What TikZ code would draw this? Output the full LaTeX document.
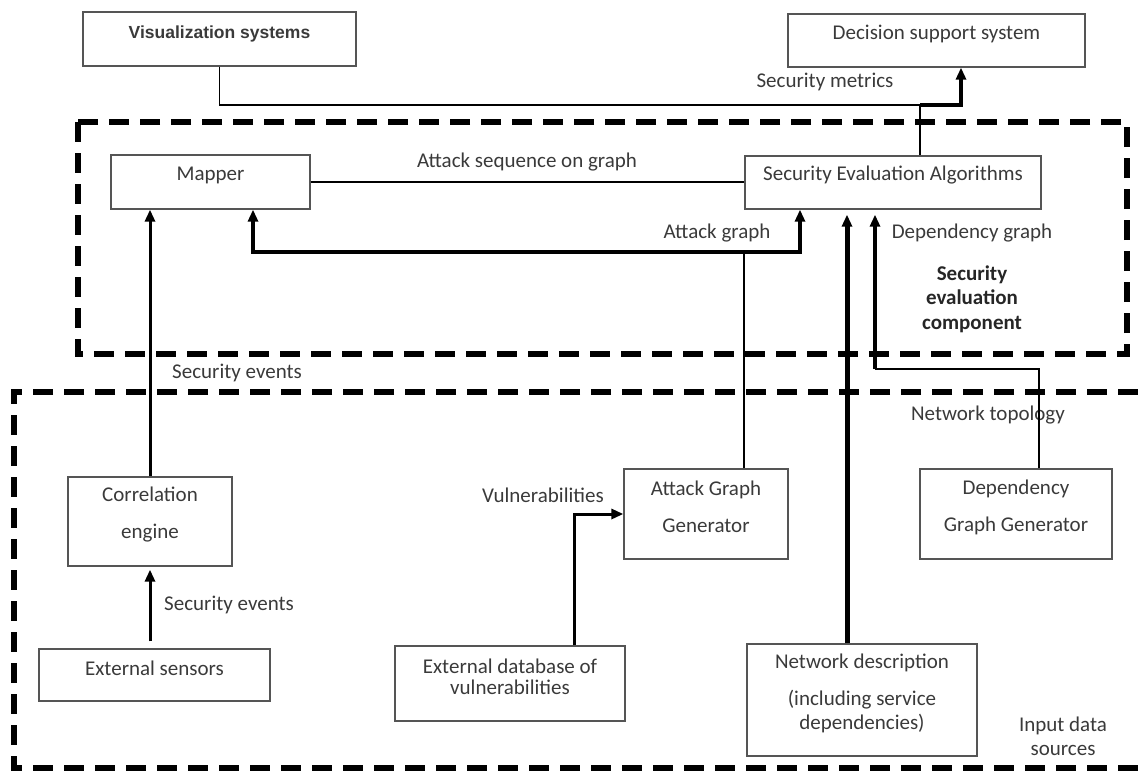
\documentclass[tikz,border=0pt]{standalone}
\usepackage{fontspec}
\setmainfont{Carlito}
\newfontfamily\visfont{Liberation Sans}
\usetikzlibrary{arrows.meta}

\definecolor{txtgray}{HTML}{3A3A3A}
\definecolor{boxline}{HTML}{555555}

\tikzset{
  box/.style={draw=boxline, line width=1.3pt, inner sep=0pt},
  boxtext/.style={text=txtgray, align=center, yshift=7pt},
  lbl/.style={text=txtgray, align=center, inner sep=1pt},
  conn/.style={line width=1.6pt},
  medarrow/.style={line width=3pt, ->},
  thickarrow/.style={line width=4pt, ->},
  ndline/.style={line width=5pt, ->},
  zone/.style={line width=5.5pt, dash pattern=on 20pt off 11pt},
}

\begin{document}
\begin{tikzpicture}[x=1pt, y=-1pt, font=\fontsize{21}{24}\selectfont,
    >={Triangle[length=12pt, width=10pt]}]

  \useasboundingbox (0,0) rectangle (1138,772);

  % ------------------------------------------------------- the two zones
  \draw[zone] (78,122) rectangle (1127,354);
  \draw[zone] (1138,392) -- (14,392) -- (14,768) -- (1138,768);

  % ------------------------------------------------------------- outputs
  \node[box, minimum width=273, minimum height=54,
    label={[boxtext, yshift=-2pt, name=vistext, font=\visfont\bfseries\fontsize{17.5}{20}\selectfont]center:{Visualization systems}}]
    (vis) at (219.5,39) {};
  \node[box, minimum width=297, minimum height=53,
    label={[boxtext, name=dsstext]center:{Decision support system}}]
    (dss) at (936.5,40.5) {};

  % ------------------------------------------- security evaluation component
  \node[box, minimum width=199, minimum height=54,
    label={[boxtext, name=mappertext]center:{Mapper}}]
    (mapper) at (210.5,182) {};
  \node[box, minimum width=296, minimum height=53,
    label={[boxtext, name=seatext]center:{Security Evaluation Algorithms}}]
    (sea) at (893,182.5) {};
  \node[lbl, font=\bfseries\fontsize{21}{24.5}\selectfont, text=black!85]
    (zoneA) at (972,299) {Security\\evaluation\\component};

  % ------------------------------------------------------ input data sources
  \node[box, minimum width=164, minimum height=89,
    label={[boxtext, name=corrtext]center:{Correlation\\[13pt]engine}}]
    (corr) at (150,521.5) {};
  \node[box, minimum width=231, minimum height=52,
    label={[boxtext, name=estext]center:{External sensors}}]
    (es) at (154.5,675) {};
  \node[box, minimum width=230, minimum height=75,
    label={[boxtext, name=edvtext]center:{External database of\\[-3pt]vulnerabilities}}]
    (edv) at (510,683.5) {};
  \node[box, minimum width=164, minimum height=90,
    label={[boxtext, name=aggtext]center:{Attack Graph\\[13pt]Generator}}]
    (agg) at (706,514) {};
  \node[box, minimum width=192, minimum height=90,
    label={[boxtext, name=dggtext]center:{Dependency\\[13pt]Graph Generator}}]
    (dgg) at (1016,514) {};
  \node[box, minimum width=230, minimum height=112,
    label={[boxtext, name=ndtext]center:{Network description\\[13pt](including service\\dependencies)}}]
    (nd) at (862,700) {};
  \node[lbl] (zoneB) at (1063,736) {Input data\\sources};

  % ---------------------------------------------------------- connectors
  % metrics: evaluation algorithms -> decision support, visualisation tapped in
  \coordinate (mj) at (920,105);
  \coordinate (mt) at (961,105);
  \draw[conn] (vis.south) |- (mj);
  \draw[conn] (sea.north -| mj) -- (mj);
  \draw[thickarrow] (mj) -- (mt) -- (mt |- dss.south);
  \node[lbl] (metrics) at (825,82) {Security metrics};

  \draw[conn] (mapper.east) -- (mapper.east -| sea.west);
  \node[lbl] (seq) at (527,162) {Attack sequence on graph};

  % security events up to the mapper
  \draw[medarrow] (corr.north) -- (corr.north |- mapper.south);
  \node[lbl] (events1) at (237,373) {Security events};
  \draw[medarrow, shorten <=7pt, shorten >=3pt] (es.north -| corr.south) -- (corr.south);
  \node[lbl] (events2) at (229,605) {Security events};

  % attack graph, to mapper and to the algorithms
  \coordinate (agl) at (253,252);
  \coordinate (agr) at (800,252);
  \coordinate (agj) at (744,252);
  \draw[thickarrow, <->] (agl |- mapper.south) -- (agl) -- (agr) -- (agr |- sea.south);
  \draw[conn] (agg.north -| agj) -- (agj);
  \node[lbl] (agraph) at (717,233) {Attack graph};

  % network description, straight up
  \coordinate (ndx) at (847,0);
  \draw[ndline, shorten >=5pt] (nd.north -| ndx) -- (ndx |- sea.south);
  \node[lbl] (topo) at (988,415) {Network topology};

  % dependency graph
  \coordinate (dgr) at (1039,369);
  \coordinate (dgl) at (875,369);
  \draw[conn] (dgg.north -| dgr) -- (dgr) -- (dgl);
  \draw[thickarrow, shorten >=5pt] (dgl) -- (dgl |- sea.south);
  \node[lbl] (dgraph) at (972,233) {Dependency graph};

  % vulnerabilities into the generator
  \coordinate (vb) at (574,514);
  \draw[medarrow] (edv.north -| vb) |- (agg.west);
  \node[lbl] (vulns) at (543,495) {Vulnerabilities};

\end{tikzpicture}
\end{document}
